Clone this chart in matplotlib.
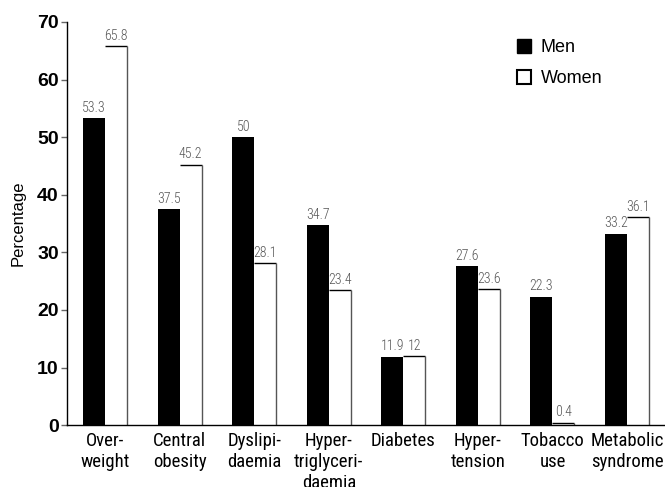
import numpy as np
import matplotlib.pyplot as plt
from matplotlib.patches import Patch

categories = ['Over-\nweight', 'Central\nobesity', 'Dyslipi-\ndaemia', 'Hyper-\ntriglyceri-\ndaemia',
              'Diabetes', 'Hyper-\ntension', 'Tobacco\nuse', 'Metabolic\nsyndrome']
men = [53.3, 37.5, 50, 34.7, 11.9, 27.6, 22.3, 33.2]
women = [65.8, 45.2, 28.1, 23.4, 12, 23.6, 0.4, 36.1]
men_labels = ['53.3', '37.5', '50', '34.7', '11.9', '27.6', '22.3', '33.2']
women_labels = ['65.8', '45.2', '28.1', '23.4', '12', '23.6', '0.4', '36.1']

narrow = ['Roboto Condensed', 'Archivo Narrow', 'Liberation Sans', 'DejaVu Sans']
plt.rcParams['font.family'] = ['Liberation Sans', 'DejaVu Sans']

fig = plt.figure(figsize=(6.65, 4.87), dpi=100)
ax = fig.add_axes([0.101, 0.127, 0.899, 0.828])

x = np.arange(len(categories))
w = 0.295
ax.bar(x - w / 2, men, w, color='black')
ax.bar(x + w / 2, women, w, color='white')
# women bars: only top and right edges are drawn
ax.hlines(women, x, x + w, colors='black', lw=1.0)
ax.vlines(x + w, 0, women, colors='#555555', lw=1.0)

for i in range(len(x)):
    ax.text(x[i] - w / 2, men[i] + 0.6, men_labels[i], ha='center', va='bottom',
            fontsize=10, color='#555555', family=narrow, fontweight='light')
    ax.text(x[i] + w / 2, women[i] + 0.6, women_labels[i], ha='center', va='bottom',
            fontsize=10, color='#555555', family=narrow, fontweight='light')

ax.set_xlim(-0.51, 7.51)
ax.set_ylim(0, 70)
ax.set_yticks(range(0, 71, 10))
ax.set_yticklabels([str(v) for v in range(0, 71, 10)], fontsize=14, fontweight='bold')
ax.tick_params(axis='y', length=4, width=1, color='#666666', pad=2)
ax.set_xticks(x)
ax.set_xticklabels(categories, fontsize=13.5, family=narrow, linespacing=1.2, va='top')
ax.tick_params(axis='x', length=0, pad=5)
ax.set_ylabel('Percentage', fontsize=12, labelpad=8)

ax.spines['top'].set_visible(False)
ax.spines['right'].set_visible(False)
ax.spines['left'].set_linewidth(1)
ax.spines['bottom'].set_linewidth(1)

handles = [Patch(facecolor='black', edgecolor='black'),
           Patch(facecolor='white', edgecolor='black', linewidth=1.5)]
fig.legend(handles, ['Men', 'Women'], loc='upper left', bbox_to_anchor=(517 / 665, 1 - 39 / 487),
           bbox_transform=fig.transFigure, frameon=False, fontsize=13, handlelength=0.8,
           handleheight=0.8, handletextpad=0.5, labelspacing=0.75, borderpad=0, borderaxespad=0)

fig.savefig('out.png', dpi=100)
